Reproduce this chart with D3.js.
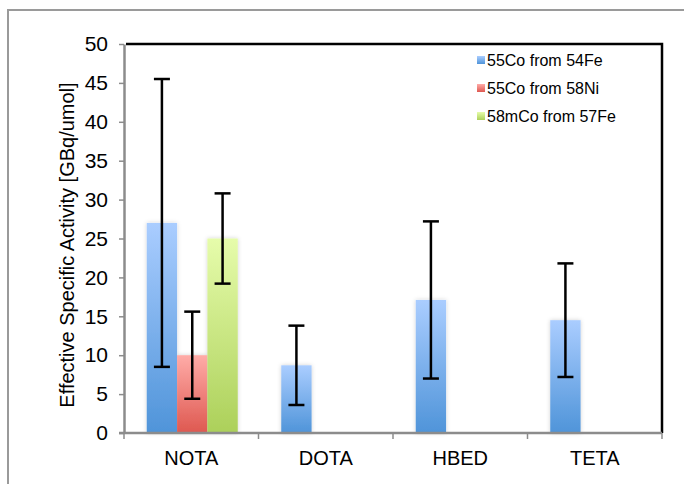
<!DOCTYPE html>
<html>
<head>
<meta charset="utf-8">
<script src="https://cdn.jsdelivr.net/npm/d3@7"></script>
<style>
  html, body { margin: 0; padding: 0; background: #fff; }
  svg { display: block; font-family: "Liberation Sans", Arial, sans-serif; }
</style>
</head>
<body>
<svg id="chart" width="684" height="484"></svg>
<script>
// Chelators on the x axis
const categories = ["NOTA", "DOTA", "HBED", "TETA"];
// Isotope production routes (series)
const seriesNames = ["55Co from 54Fe", "55Co from 58Ni", "58mCo from 57Fe"];
// Mean effective specific activity [GBq/umol]; null = not measured
const co55Fe54 = [27.0, 8.7, 17.1, 14.5];
const co55Ni58 = [10.0, null, null, null];
const co58mFe57 = [25.0, null, null, null];
// Error bar half-widths (±)
const err55Fe54 = [18.5, 5.1, 10.1, 7.3];
const err55Ni58 = [5.6, null, null, null];
const err58mFe57 = [5.8, null, null, null];
const yTicks = [0, 5, 10, 15, 20, 25, 30, 35, 40, 45, 50];

const seriesValues = [co55Fe54, co55Ni58, co58mFe57];
const seriesErrors = [err55Fe54, err55Ni58, err58mFe57];
const gradients = [
  ["#aacdff", "#4f94d9"],
  ["#ffaca8", "#de5850"],
  ["#e6fcab", "#acd05a"]
];

const svg = d3.select("#chart");
const plot = { left: 124, right: 662, top: 44, bottom: 433 };

// Outer chart frame (runs off the right and bottom edges)
svg.append("rect")
  .attr("x", 8).attr("y", 10)
  .attr("width", 700).attr("height", 500)
  .attr("fill", "none").attr("stroke", "#9a9a9a").attr("stroke-width", 2);

const defs = svg.append("defs");
gradients.forEach((g, i) => {
  const lg = defs.append("linearGradient")
    .attr("id", "grad" + i).attr("x1", 0).attr("y1", 0).attr("x2", 0).attr("y2", 1);
  lg.append("stop").attr("offset", "0%").attr("stop-color", g[0]);
  lg.append("stop").attr("offset", "100%").attr("stop-color", g[1]);
});
const shadow = defs.append("filter").attr("id", "shadow")
  .attr("x", "-30%").attr("y", "-10%").attr("width", "160%").attr("height", "120%");
shadow.append("feDropShadow")
  .attr("dx", 0).attr("dy", 0).attr("stdDeviation", 2)
  .attr("flood-color", "#000").attr("flood-opacity", 0.18);

const groupWidth = 91;
const x0 = d3.scaleBand().domain(categories)
  .range([plot.left, plot.right]).paddingInner(0).paddingOuter(0);
const x1 = d3.scaleBand().domain(d3.range(seriesNames.length))
  .range([0, groupWidth]);
const groupOffset = (x0.bandwidth() - groupWidth) / 2 + 1;
const y = d3.scaleLinear().domain([0, 50]).range([plot.bottom, plot.top]);

// Black top and right frame of the plot area
svg.append("path")
  .attr("d", `M${plot.left + 2},${plot.top}H${plot.right}V${plot.bottom}`)
  .attr("fill", "none").attr("stroke", "#000").attr("stroke-width", 2.5);

// Bars
const barData = [];
seriesValues.forEach((vals, s) => {
  vals.forEach((v, c) => {
    if (v !== null) barData.push({ s, c, v, e: seriesErrors[s][c] });
  });
});

const bars = svg.append("g").attr("filter", "url(#shadow)");
bars.selectAll("rect").data(barData).join("rect")
  .attr("x", d => x0(categories[d.c]) + groupOffset + x1(d.s))
  .attr("width", x1.bandwidth())
  .attr("y", d => y(d.v))
  .attr("height", d => y(0) - y(d.v))
  .attr("fill", d => `url(#grad${d.s})`);

// Axes
const yAxis = d3.axisLeft(y).tickValues(yTicks).tickSize(5).tickPadding(11).tickSizeOuter(0);
const gy = svg.append("g").attr("transform", `translate(${plot.left},0)`).call(yAxis);
gy.select(".domain").attr("stroke", "#8c8c8c").attr("stroke-width", 2.5);
gy.selectAll(".tick line").attr("stroke", "#8c8c8c").attr("stroke-width", 1.5);
gy.selectAll(".tick text").attr("font-size", 21).attr("fill", "#000")
  .attr("font-family", "Liberation Sans, Arial, sans-serif");

const xAxis = d3.axisBottom(x0).tickSize(0).tickPadding(18);
const gx = svg.append("g").attr("transform", `translate(0,${plot.bottom})`).call(xAxis);
gx.select(".domain").remove();
gx.selectAll(".tick text").attr("font-size", 20).attr("fill", "#000")
  .attr("font-family", "Liberation Sans, Arial, sans-serif");
// Category boundary ticks
const boundaries = categories.map(c => x0(c)).concat([plot.right]);
svg.append("g").selectAll("line").data(boundaries).join("line")
  .attr("x1", d => d).attr("x2", d => d)
  .attr("y1", plot.bottom).attr("y2", plot.bottom + 6)
  .attr("stroke", "#8c8c8c").attr("stroke-width", 1.5);
svg.append("line")
  .attr("x1", plot.left - 5).attr("x2", plot.right)
  .attr("y1", plot.bottom).attr("y2", plot.bottom)
  .attr("stroke", "#8c8c8c").attr("stroke-width", 2.5);

// Error bars
const eb = svg.append("g").attr("stroke", "#000").attr("stroke-width", 2.5).attr("fill", "none");
barData.forEach(d => {
  const cx = x0(categories[d.c]) + groupOffset + x1(d.s) + x1.bandwidth() / 2;
  const y1 = y(d.v + d.e), y2 = y(d.v - d.e);
  eb.append("line").attr("x1", cx).attr("x2", cx).attr("y1", y1).attr("y2", y2);
  eb.append("line").attr("x1", cx - 8).attr("x2", cx + 8).attr("y1", y1).attr("y2", y1);
  eb.append("line").attr("x1", cx - 8).attr("x2", cx + 8).attr("y1", y2).attr("y2", y2);
});

// Y axis title
svg.append("text")
  .attr("transform", `translate(74,245) rotate(-90)`)
  .attr("text-anchor", "middle")
  .attr("font-size", 20).attr("fill", "#000")
  .text("Effective Specific Activity [GBq/umol]");

// Legend
const legend = svg.append("g").attr("transform", "translate(477,56)");
seriesNames.forEach((name, i) => {
  const row = legend.append("g").attr("transform", `translate(0,${i * 28})`);
  row.append("rect").attr("width", 8).attr("height", 8).attr("fill", `url(#grad${i})`);
  row.append("text").attr("x", 10).attr("y", 9.5)
    .attr("font-size", 16).attr("fill", "#000").text(name);
});
</script>
</body>
</html>
